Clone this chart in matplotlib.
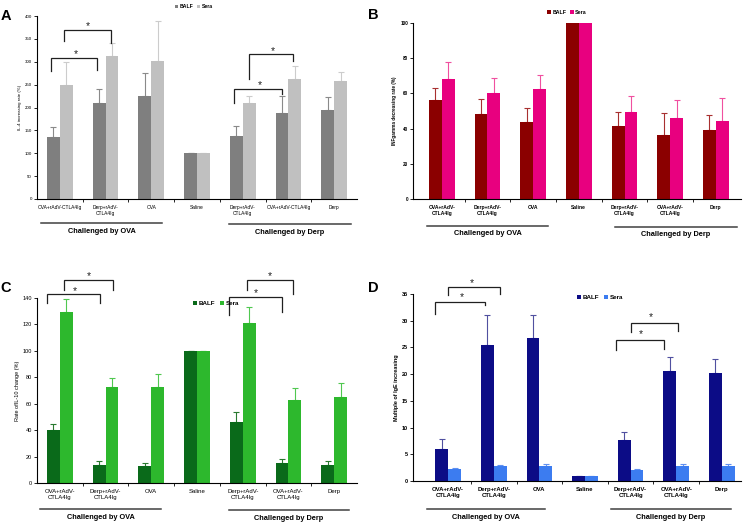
import matplotlib
matplotlib.use('Agg')
import matplotlib.pyplot as plt
import matplotlib.transforms as mtransforms

plt.rcParams['font.family'] = ['Liberation Sans', 'DejaVu Sans']

categories_a = ['OVA+rAdV-CTLA4Ig', 'Derp+rAdV-\nCTLA4Ig', 'OVA', 'Saline',
                'Derp+rAdV-\nCTLA4Ig', 'OVA+rAdV-CTLA4Ig', 'Derp']
categories = ['OVA+rAdV-\nCTLA4Ig', 'Derp+rAdV-\nCTLA4Ig', 'OVA', 'Saline',
              'Derp+rAdV-\nCTLA4Ig', 'OVA+rAdV-\nCTLA4Ig', 'Derp']

# IL-4
il4_balf = [135, 210, 225, 100, 137, 187, 194]
il4_balf_err = [22, 30, 50, 0, 23, 38, 30]
il4_sera = [250, 312, 302, 100, 209, 262, 259]
il4_sera_err = [50, 30, 87, 0, 17, 28, 18]

# IFN-gamma
ifn_balf = [56, 48.5, 44, 100, 41.5, 36.5, 39]
ifn_balf_err = [7, 8.5, 7.5, 0, 8, 12.5, 9]
ifn_sera = [68, 60.5, 62.5, 100, 49.5, 46, 44.5]
ifn_sera_err = [10, 8, 8, 0, 9, 10, 13]

# IL-10
il10_balf = [40, 14, 12.5, 100, 46.5, 15, 13.5]
il10_balf_err = [4.5, 2.5, 3, 0, 7, 3, 3]
il10_sera = [129.5, 72.5, 72.5, 100, 121, 63, 65]
il10_sera_err = [9.5, 7, 10, 0, 12, 9, 11]

# IgE
ige_balf = [6, 25.5, 26.8, 1, 7.7, 20.5, 20.3]
ige_balf_err = [1.8, 5.5, 4.2, 0, 1.4, 2.8, 2.6]
ige_sera = [2.2, 2.8, 2.8, 1, 2.0, 2.8, 2.8]
ige_sera_err = [0.2, 0.2, 0.3, 0, 0.2, 0.3, 0.4]

# significance brackets: x_left, x_right, y_top, y_left_end, y_right_end, star_x, star_y
brackets_a = [(-0.19, 0.82, 308, 280, 282, 0.35, 321),
              (0.09, 1.12, 369, 345, 341, 0.62, 382),
              (3.82, 4.87, 240, 210, 230, 4.37, 254),
              (4.13, 5.09, 317, 262, 302, 4.65, 328)]
brackets_c = [(-0.28, 0.88, 143, 136, 136, 0.33, 147),
              (0.09, 1.16, 153.6, 146, 146, 0.64, 158),
              (3.70, 4.86, 140.7, 127, 129.4, 4.29, 145),
              (4.10, 5.10, 154, 146, 143, 4.60, 158)]
brackets_d = [(-0.29, 0.81, 33.5, 31.3, 32.9, 0.30, 34.8),
              (0.0, 1.13, 36.3, 34.8, 35.0, 0.52, 37.4),
              (3.69, 4.74, 26.4, 24.5, 24.7, 4.22, 27.9),
              (4.00, 5.03, 29.6, 27.9, 28.0, 4.44, 31.1)]

W, H = 748, 523
fig = plt.figure(figsize=(W / 100, H / 100), dpi=100)


def px_axes(left, top, right, bottom):
    return fig.add_axes([left / W, 1 - bottom / H, (right - left) / W, (bottom - top) / H])


def draw_panel(ax, labels, balf, balf_err, sera, sera_err, colors, ylim, yticks,
               ylabel, xlim, fs, bold, legend_pos, groups, brackets, letter, letter_xy):
    x = list(range(len(labels)))
    w = 0.28
    xb = [i - w / 2 for i in x]
    xs = [i + w / 2 for i in x]
    ax.bar(xb, balf, w, color=colors[0], label='BALF', zorder=2)
    ax.bar(xs, sera, w, color=colors[1], label='Sera', zorder=2)
    ax.errorbar(xb, balf, yerr=[[0] * len(balf), balf_err], fmt='none',
                ecolor=colors[2], elinewidth=0.8, capsize=2, capthick=0.8, zorder=1)
    ax.errorbar(xs, sera, yerr=[[0] * len(sera), sera_err], fmt='none',
                ecolor=colors[3], elinewidth=0.8, capsize=2, capthick=0.8, zorder=1)
    ax.set_xlim(*xlim)
    ax.set_ylim(*ylim)
    ax.set_yticks(yticks)
    weight = 'bold' if bold else 'normal'
    ax.set_yticklabels([str(t) for t in yticks], fontsize=fs, fontweight=weight)
    ax.set_xticks([i + 0.5 for i in x[:-1]])
    ax.set_xticklabels([])
    ax.set_xticks(x, minor=True)
    ax.set_xticklabels(labels, minor=True, fontsize=fs + 0.3, fontweight=weight,
                       linespacing=1.3)
    ax.tick_params(axis='x', which='minor', length=0, pad=4)
    ax.tick_params(axis='x', which='major', length=2, width=0.6, direction='out')
    ax.tick_params(axis='y', length=2, width=0.6, pad=1.5)
    ax.set_ylabel(ylabel, fontsize=fs, fontweight=weight, labelpad=2)
    for s in ['top', 'right']:
        ax.spines[s].set_visible(False)
    for s in ['left', 'bottom']:
        ax.spines[s].set_linewidth(0.8)
    ax.legend(loc='center', bbox_to_anchor=legend_pos, ncol=2, frameon=False,
              handlelength=0.6, handleheight=0.6, handletextpad=0.3, columnspacing=0.8,
              prop={'size': fs + 0.5, 'weight': 'bold'})
    tr = mtransforms.blended_transform_factory(ax.transData, ax.transAxes)
    for (g0, g1, gy, name) in groups:
        ax.plot([g0, g1], [gy, gy], color='#404040', lw=1.1, transform=tr, clip_on=False)
        ax.text((g0 + g1) / 2, gy - 0.045, name, transform=tr, ha='center', va='center',
                fontsize=5.3, fontweight='bold', clip_on=False)
    for (x0, x1, yt, yl, yr, sx, sy) in brackets:
        ax.plot([x0, x0, x1, x1], [yl, yt, yt, yr], color='#202020', lw=0.9,
                clip_on=False, solid_joinstyle='miter')
        ax.annotate('*', (sx, sy), xytext=(0, -1.5), textcoords='offset points',
                    ha='center', va='center', fontsize=7.5, color='#202020',
                    annotation_clip=False)
    fig.text(letter_xy[0] / W, 1 - letter_xy[1] / H, letter, fontsize=10.5,
             fontweight='bold', ha='center', va='center')


ax_a = px_axes(37, 16, 357, 199)
draw_panel(ax_a, categories_a, il4_balf, il4_balf_err, il4_sera, il4_sera_err,
           ['#7f7f7f', '#c0c0c0', '#8a8a8a', '#cccccc'], (0, 400), list(range(0, 401, 50)),
           'IL-4 increasing rate (%)', (-0.5, 6.5), 3.2, False, (0.49, 1.05),
           [(-0.41, 2.24, -0.131, 'Challenged by OVA'),
            (3.69, 6.36, -0.137, 'Challenged by Derp')],
           brackets_a, 'A', (6, 16))

ax_b = px_axes(413, 23, 741, 199)
draw_panel(ax_b, categories, ifn_balf, ifn_balf_err, ifn_sera, ifn_sera_err,
           ['#8b0000', '#e8007f', '#a83030', '#f050a0'], (0, 100), list(range(0, 101, 20)),
           'INFgamma decreasing rate (%)', (-0.63, 6.55), 3.3, True, (0.47, 1.06),
           [(-0.32, 2.32, -0.153, 'Challenged by OVA'),
            (3.79, 6.46, -0.159, 'Challenged by Derp')],
           [], 'B', (373, 15))

ax_c = px_axes(37, 298, 357, 483)
draw_panel(ax_c, categories, il10_balf, il10_balf_err, il10_sera, il10_sera_err,
           ['#0a6a1a', '#2db82d', '#2a7a30', '#50c850'], (0, 140), list(range(0, 141, 20)),
           'Rate ofIL-10 change (%)', (-0.5, 6.5), 4.0, False, (0.56, 0.97),
           [(-0.43, 2.21, -0.14, 'Challenged by OVA'),
            (3.70, 6.33, -0.145, 'Challenged by Derp')],
           brackets_c, 'C', (6, 288))

ax_d = px_axes(413, 294, 741, 481)
draw_panel(ax_d, categories, ige_balf, ige_balf_err, ige_sera, ige_sera_err,
           ['#0c0c86', '#3c7cf0', '#5050a0', '#6090f0'], (0, 35), list(range(0, 36, 5)),
           'Multiple of IgE increasing', (-0.77, 6.42), 4.0, True, (0.57, 0.98),
           [(-0.46, 2.12, -0.15, 'Challenged by OVA'),
            (3.56, 6.21, -0.15, 'Challenged by Derp')],
           brackets_d, 'D', (373, 288))

fig.savefig('out.png', dpi=100)
